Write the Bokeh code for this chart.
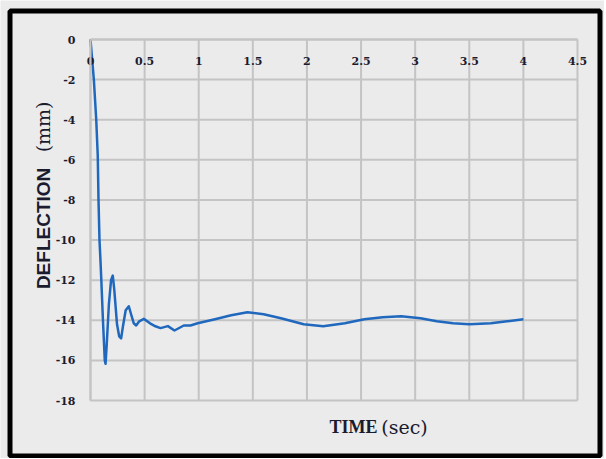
import math
from bokeh.plotting import figure
from bokeh.models import FixedTicker, Label
from bokeh.embed import file_html
from bokeh.resources import INLINE

# data
time_s = [0, 0.031, 0.053, 0.067, 0.074, 0.083, 0.092, 0.1, 0.115, 0.132, 0.139,
          0.15, 0.17, 0.19, 0.206, 0.22, 0.245, 0.265, 0.283, 0.3, 0.325, 0.354,
          0.375, 0.4, 0.422, 0.45, 0.493, 0.55, 0.6, 0.647, 0.715, 0.776, 0.862,
          0.924, 0.99, 1.15, 1.3, 1.45, 1.6, 1.76, 1.97, 2.15, 2.35, 2.53, 2.7,
          2.87, 3.05, 3.2, 3.35, 3.5, 3.7, 3.85, 4.0]
deflection_mm = [0, -2.0, -4.0, -5.8, -8.0, -10.0, -11.0, -12.0, -14.0, -16.0, -16.17,
                 -15.2, -13.2, -12.0, -11.77, -12.5, -14.2, -14.8, -14.9, -14.3, -13.5, -13.3,
                 -13.7, -14.15, -14.26, -14.05, -13.93, -14.15, -14.3, -14.39, -14.29, -14.51, -14.26,
                 -14.26, -14.15, -13.95, -13.75, -13.6, -13.7, -13.9, -14.2, -14.3, -14.15, -13.95, -13.85,
                 -13.8, -13.9, -14.05, -14.15, -14.2, -14.15, -14.05, -13.95]

x_ticks = [0, 0.5, 1, 1.5, 2, 2.5, 3, 3.5, 4, 4.5]
x_tick_labels = ["0", "0.5", "1", "1.5", "2", "2.5", "3", "3.5", "4", "4.5"]
y_ticks = [0, -2, -4, -6, -8, -10, -12, -14, -16, -18]
y_tick_labels = ["0", "-2", "-4", "-6", "-8", "-10", "-12", "-14", "-16", "-18"]

BG = "#ebebeb"
GRID = "#c4c4c4"
TXT = "#1b1b2f"

X0, X1 = x_ticks[0], x_ticks[-1]
Y0, Y1 = y_ticks[-1], y_ticks[0]

# the frame covers the whole canvas; the data box 0..4.5 x -18..0 sits inside it
p = figure(width=604, height=458, x_range=(-0.83162, 4.74949), y_range=(-20.89194, 1.94460),
           output_backend="svg", toolbar_location=None,
           min_border_left=0, min_border_right=0, min_border_top=0, min_border_bottom=0,
           background_fill_color=BG, border_fill_color=BG)
p.outline_line_color = None
p.grid.visible = False

# grid lines, limited to the data box
p.segment(x0=x_ticks, x1=x_ticks, y0=[Y0] * len(x_ticks), y1=[Y1] * len(x_ticks),
          line_color=GRID, line_width=2)
p.segment(x0=[X0] * len(y_ticks), x1=[X1] * len(y_ticks), y0=y_ticks, y1=y_ticks,
          line_color=GRID, line_width=2)

for ax, ticks, labels in ((p.xaxis[0], x_ticks, x_tick_labels),
                          (p.yaxis[0], y_ticks, y_tick_labels)):
    ax.ticker = FixedTicker(ticks=ticks)
    ax.major_label_overrides = {t: l for t, l in zip(ticks, labels)}
    ax.axis_line_color = GRID
    ax.axis_line_width = 2
    ax.major_tick_line_color = None
    ax.minor_tick_line_color = None
    ax.major_tick_out = 0
    ax.major_tick_in = 0
    ax.minor_tick_out = 0
    ax.minor_tick_in = 0
    ax.major_label_text_font = "DejaVu Serif"
    ax.major_label_text_font_style = "bold"
    ax.major_label_text_font_size = "11px"
    ax.major_label_text_color = TXT

p.xaxis.fixed_location = 0
p.xaxis.bounds = (X0, X1)
p.xaxis.major_label_standoff = 17
p.yaxis.fixed_location = 0
p.yaxis.bounds = (Y0, Y1)
p.yaxis.major_label_standoff = 15

p.line(time_s, deflection_mm, line_color="#1f68bd", line_width=2.5, line_join="round")

# axis titles
p.add_layout(Label(x=-0.4343, y=-9.42, text="DEFLECTION", angle=math.pi / 2,
                   text_align="center", text_baseline="middle",
                   text_font="Liberation Sans", text_font_style="bold",
                   text_font_size="19px", text_color=TXT))
p.add_layout(Label(x=-0.4343, y=-4.36, text="(mm)", angle=math.pi / 2,
                   text_align="center", text_baseline="middle",
                   text_font="DejaVu Serif", text_font_size="19px", text_color=TXT))
p.add_layout(Label(x=2.430, y=-19.30, text="TIME",
                   text_align="center", text_baseline="middle",
                   text_font="Liberation Serif", text_font_style="bold",
                   text_font_size="18px", text_color=TXT))
p.add_layout(Label(x=2.901, y=-19.30, text="(sec)",
                   text_align="center", text_baseline="middle",
                   text_font="DejaVu Serif", text_font_size="19px", text_color=TXT))

# black frame around the whole chart
p.quad(left=[-0.7438], right=[4.7079], top=[1.4210], bottom=[-20.7671],
       fill_alpha=0, line_color="black", line_width=5)

open("out.html", "w").write(file_html(p, INLINE))
